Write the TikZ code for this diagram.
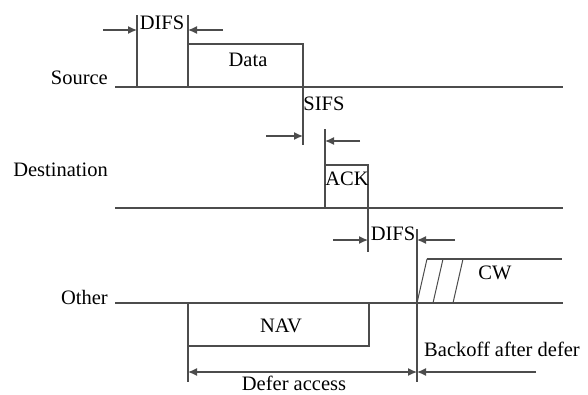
\documentclass[tikz,border=0pt]{standalone}
\usepackage{fontspec}
\setmainfont{Liberation Serif}
\usetikzlibrary{arrows.meta}
\tikzset{
  wire/.style={black!70,line width=1.3pt},
  arr/.style={wire,-{Latex[length=9pt,width=8pt]}},
  lbl/.style={font=\fontsize{20.5}{22}\selectfont,inner sep=0pt},
}
\begin{document}
\begin{tikzpicture}[x=1pt,y=-1pt]
\useasboundingbox (0,0) rectangle (588,394);
% time lines
\coordinate (srcA) at (115,87);  \coordinate (srcB) at (563,87);
\coordinate (dstA) at (115,208); \coordinate (dstB) at (563,208);
\coordinate (othA) at (115,303); \coordinate (othB) at (563,303);
\draw[wire] (srcA)--(srcB);
\draw[wire] (dstA)--(dstB);
\draw[wire] (othA)--(othB);
\node[lbl,anchor=east] (source) at (108,78) {Source};
\node[lbl,anchor=east] (dest) at (108,170) {Destination};
\node[lbl,anchor=east] (other) at (108,297) {Other};
% source: DIFS + data
\draw[wire] (137,15)--(137,87);
\draw[wire] (188,15)--(188,87);
\draw[wire] (188,44)--(303,44)--(303,145);
\draw[arr] (103,30)--(137,30);
\draw[arr] (223,30)--(188,30);
\node[lbl] (difsA) at (162,23) {DIFS};
\node[lbl] (data) at (248,60) {Data};
% SIFS + ACK
\node[lbl] (sifs) at (324,104) {SIFS};
\draw[arr] (266,136)--(303,136);
\draw[wire] (325,129)--(325,208);
\draw[wire] (325,165)--(368,165)--(368,252);
\draw[arr] (360,141)--(325,141);
\node[lbl] (ack) at (347,179) {ACK};
% DIFS after ACK
\draw[arr] (333,240)--(368,240);
\draw[arr] (455,240)--(417,240);
\node[lbl] (difsB) at (393,234) {DIFS};
\draw[wire] (417,229)--(417,382);
% contention window
\draw[wire] (427,259)--(562,259);
\foreach \x in {417,433,453}
  \draw[wire,line width=1pt] (\x,303)--(\x+10,259);
\node[lbl] (cw) at (495,273) {CW};
% NAV and defer
\draw[wire] (188,303)--(188,382);
\draw[wire] (188,346)--(369,346)--(369,303);
\node[lbl] (nav) at (281,326) {NAV};
\draw[wire,{Latex[length=9pt,width=8pt]}-{Latex[length=9pt,width=8pt]}] (188,372)--(417,372);
\draw[arr] (536,372)--(417,372);
\node[lbl,anchor=base] (defer) at (294,390) {Defer access};
\node[lbl] (backoff) at (502,349) {Backoff after defer};
\end{tikzpicture}
\end{document}
